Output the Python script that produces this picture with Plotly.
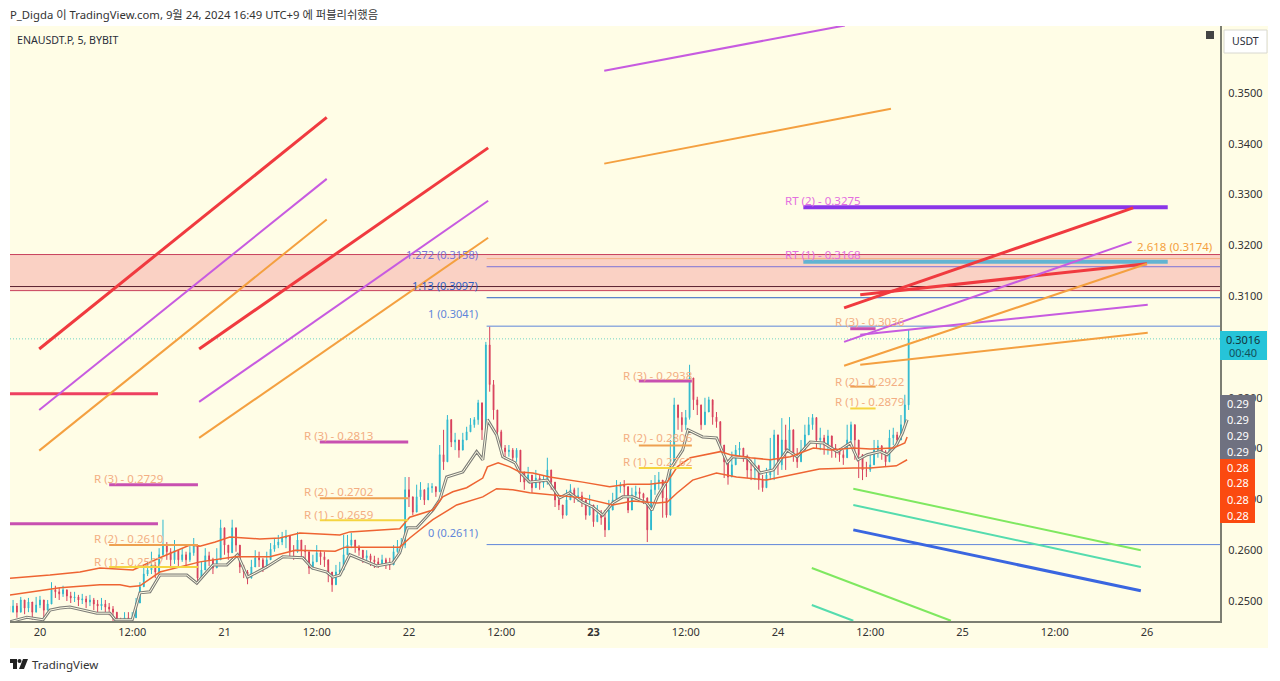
import pandas as pd
import plotly.graph_objects as go

# ---------- data: candles (30-min samples, prices x 1e-4) ----------
START = "2024-09-19 20:00"
close_e4 = [
 2478,2490,2478,2502,2486,2498,2478,2492,2502,2482,2494,2522,2518,2514,2522,2510,2506,2508,2502,2504,2498,2502,2494,2490,2494,2488,
 2484,2478,2459,2453,2467,2463,2467,2496,2528,2553,2561,2571,2557,2591,2610,2597,2581,2600,2581,2591,2581,2595,2610,2545,2561,2589,
 2581,2565,2581,2644,2610,2595,2644,2610,2567,2557,2545,2567,2585,2581,2565,2581,2602,2610,2616,2624,2628,2597,2597,2620,2600,2597,
 2565,2577,2595,2587,2581,2557,2532,2557,2561,2591,2610,2620,2606,2600,2585,2589,2581,2577,2573,2581,2573,2571,2597,2604,2610,2719,
 2705,2675,2705,2719,2699,2723,2725,2715,2788,2774,2857,2813,2817,2797,2817,2833,2847,2857,2890,2837,3004,2926,2876,2833,2801,2794,
 2797,2782,2797,2754,2734,2748,2723,2742,2732,2734,2758,2734,2699,2689,2669,2699,2719,2705,2707,2699,2669,2689,2656,2669,2664,2640,
 2679,2699,2725,2729,2725,2679,2709,2715,2711,2703,2640,2719,2732,2738,2703,2669,2768,2886,2861,2847,2861,2939,2896,2886,2847,2872,
 2896,2862,2853,2807,2774,2744,2768,2797,2801,2784,2758,2758,2766,2738,2723,2748,2778,2827,2768,2817,2797,2837,2788,2774,2797,2827,
 2847,2861,2817,2821,2807,2825,2801,2797,2788,2782,2817,2847,2817,2788,2758,2758,2768,2797,2805,2794,2774,2821,2827,2817,2847,2886,3016]
high_e4 = [
 2490,2502,2496,2508,2502,2506,2496,2508,2510,2498,2502,2537,2530,2526,2530,2522,2518,2518,2512,2514,2510,2512,2506,2502,2506,2502,
 2496,2490,2478,2467,2478,2478,2478,2506,2537,2569,2577,2597,2577,2604,2660,2616,2604,2620,2600,2604,2597,2608,2624,2581,2577,2604,
 2597,2585,2604,2660,2630,2610,2660,2630,2591,2571,2561,2581,2600,2597,2585,2597,2614,2624,2630,2636,2640,2620,2610,2636,2620,2610,
 2581,2591,2610,2600,2597,2571,2551,2571,2577,2630,2630,2634,2620,2610,2597,2600,2593,2589,2585,2591,2585,2585,2610,2620,2624,2744,
 2744,2699,2729,2734,2719,2732,2732,2725,2807,2837,2866,2831,2831,2817,2831,2843,2860,2862,2896,2866,3010,3040,2935,2876,2837,2807,
 2807,2801,2801,2778,2748,2764,2742,2758,2748,2748,2782,2758,2719,2709,2689,2719,2730,2723,2723,2715,2689,2709,2675,2689,2679,2679,
 2699,2713,2738,2734,2738,2719,2723,2727,2723,2713,2689,2738,2748,2754,2729,2742,2817,2900,2886,2872,2876,2965,2912,2902,2876,2900,
 2902,2886,2872,2847,2807,2778,2794,2807,2813,2801,2788,2778,2782,2768,2748,2762,2821,2837,2807,2860,2847,2862,2817,2801,2817,2847,
 2862,2868,2847,2841,2827,2837,2817,2809,2801,2797,2847,2853,2837,2817,2774,2774,2788,2817,2817,2807,2797,2837,2841,2833,2866,2906,3034]
low_e4 = [
 2468,2478,2467,2486,2474,2478,2463,2478,2486,2467,2482,2496,2506,2502,2508,2500,2496,2498,2490,2494,2486,2490,2482,2478,2482,2478,
 2472,2459,2443,2439,2455,2447,2455,2482,2512,2537,2549,2553,2545,2569,2589,2581,2567,2573,2565,2577,2569,2577,2589,2533,2545,2573,
 2569,2553,2565,2610,2591,2581,2616,2597,2555,2545,2533,2555,2569,2567,2557,2569,2589,2597,2604,2610,2604,2585,2581,2595,2585,2581,
 2553,2561,2581,2571,2567,2537,2518,2545,2551,2581,2597,2604,2595,2589,2575,2577,2569,2565,2565,2569,2563,2561,2585,2595,2597,2604,
 2685,2669,2689,2699,2689,2709,2713,2705,2715,2758,2797,2803,2797,2782,2807,2817,2833,2841,2847,2817,2817,2912,2857,2827,2788,2778,
 2784,2772,2774,2734,2719,2734,2713,2728,2719,2723,2729,2719,2685,2679,2662,2687,2705,2693,2695,2685,2660,2675,2646,2656,2650,2626,
 2656,2685,2705,2713,2705,2673,2695,2699,2699,2691,2616,2660,2709,2719,2664,2664,2709,2817,2837,2833,2837,2857,2876,2866,2837,2847,
 2876,2847,2841,2794,2742,2729,2754,2774,2782,2774,2742,2738,2738,2719,2715,2734,2738,2738,2748,2758,2758,2797,2774,2762,2774,2797,
 2827,2837,2801,2797,2788,2788,2782,2782,2774,2768,2797,2807,2778,2742,2738,2744,2754,2778,2782,2778,2764,2797,2807,2807,2833,2847,2876]
FIRST_OPEN_E4 = 2490

# ---------- data: indicator lines (hours from 20 Sep 00:00, prices x 1e-4) ----------
upper_h = [-3.9,1.3,5.2,7.8,12.1,15.6,19.5,20.8,22.8,24.7,28.6,31.2,33.8,39.0,40.3,46.8,48.1,51.1,52.4,53.7,55.5,57.6,58.2,59.6,61.1,62.4,64.1,66.3,70.6,74.1,76.4,79.3,81.6,82.9,84.6,88.5,89.8,92.4,95.0,97.6,100.6,102.8,105.8,108.0,111.0,112.5,112.8]
upper_p = [2545,2551,2557,2565,2561,2585,2610,2608,2616,2626,2622,2624,2634,2630,2636,2642,2665,2679,2705,2715,2723,2742,2764,2772,2764,2754,2752,2744,2734,2725,2730,2730,2734,2764,2782,2794,2788,2782,2778,2784,2801,2797,2801,2799,2801,2811,2823]
lower_h = [-3.9,2.6,7.8,10.4,11.7,13.0,15.6,20.8,25.4,29.9,33.2,38.4,39.7,46.8,48.1,51.1,54.2,57.6,59.4,61.5,63.7,66.3,70.6,74.5,77.1,80.3,81.6,82.9,84.9,88.0,90.6,94.5,97.6,101.4,105.8,108.0,111.4,112.8]
lower_p = [2512,2526,2532,2532,2528,2530,2557,2577,2587,2587,2600,2598,2606,2606,2624,2660,2689,2705,2721,2719,2713,2709,2703,2689,2697,2693,2695,2713,2738,2752,2744,2738,2748,2760,2762,2762,2766,2778]
gray_h = [-3.9,-1.7,0.4,1.3,2.6,3.9,7.4,9.1,9.8,12.0,13.0,14.3,15.6,19.1,20.4,22.5,24.3,25.7,27.0,29.5,31.6,34.2,35.4,37.3,38.1,39.0,40.3,42.0,43.8,45.9,46.8,47.8,49.0,51.1,52.0,52.9,55.0,56.8,57.6,58.2,59.4,60.2,61.8,62.4,63.7,66.0,67.6,68.9,70.5,71.9,73.2,74.5,75.8,77.1,78.9,79.6,80.3,81.6,81.9,83.6,84.3,86.2,88.0,89.4,90.1,92.0,93.7,95.4,97.2,98.5,100.2,101.9,103.7,105.4,106.4,107.6,109.3,110.2,111.4,112.2,112.8]
gray_p = [2459,2468,2463,2482,2486,2488,2476,2476,2463,2463,2516,2518,2551,2551,2535,2571,2571,2591,2547,2567,2587,2585,2565,2557,2547,2551,2591,2581,2569,2575,2595,2644,2644,2679,2699,2744,2754,2794,2778,2857,2827,2784,2772,2754,2734,2738,2703,2713,2695,2685,2669,2693,2705,2705,2693,2679,2705,2738,2758,2797,2837,2823,2821,2772,2784,2782,2752,2758,2797,2784,2813,2811,2794,2811,2778,2788,2794,2788,2807,2831,2857]

# ---------- data: drawn trend lines (h0, p0, h1, p1, colour, width) ----------
RED, PURPLE, ORANGE = "#f03a3f", "#c75be0", "#f4a040"
trend_lines = [
 (-0.1,2996,37.3,3452,RED,3),(20.7,2996,58.3,3392,RED,3),
 (-0.1,2876,37.3,3331,PURPLE,2),(20.7,2892,58.3,3288,PURPLE,2),
 (-0.1,2796,37.3,3251,ORANGE,2),(20.7,2821,58.3,3215,ORANGE,2),
 (73.4,3544,104.7,3633,PURPLE,2),(73.4,3361,110.7,3469,ORANGE,2),
 (104.6,3077,142.2,3274,RED,3),(106.7,3103,144.0,3164,RED,3),
 (104.6,3010,142.0,3207,PURPLE,2),(106.7,3024,144.1,3083,PURPLE,2),
 (104.6,2963,144.0,3164,ORANGE,2),(106.7,2965,144.1,3028,ORANGE,2),
 (105.8,2721,143.2,2600,"#7fe860",2),(105.8,2689,143.2,2567,"#55dcae",2),
 (105.8,2640,143.2,2520,"#3a66e0",3),(100.4,2565,118.5,2461,"#7fe860",2),
 (100.4,2492,105.8,2461,"#55dcae",2),
]
left_levels = [(-3.9,15.35,2908,"#ee4060"),(-3.9,15.35,2652,"#c850b0")]
# R levels: (h0, h1, text hour, text price, level, label, colour)
R3, R2, R1 = "#c850b0", "#eea050", "#f5d540"
r_levels = [
 (9.0,20.55,7.0,2742,2729,"R (3) - 0.2729",R3),(9.0,20.55,7.0,2624,2610,"R (2) - 0.2610",R2),(9.0,20.55,7.0,2577,2567,"R (1) - 0.2567",R1),
 (36.4,47.9,34.3,2825,2813,"R (3) - 0.2813",R3),(36.4,47.9,34.3,2715,2702,"R (2) - 0.2702",R2),(36.4,47.9,34.3,2671,2659,"R (1) - 0.2659",R1),
 (77.9,84.8,75.8,2943,2933,"R (3) - 0.2938",R3),(77.9,84.8,75.8,2821,2806,"R (2) - 0.2806",R2),(77.9,84.8,75.8,2774,2762,"R (1) - 0.2762",R1),
 (105.4,108.7,103.4,3050,3036,"R (3) - 0.3036",R3),(105.4,108.7,103.4,2933,2922,"R (2) - 0.2922",R2),(105.4,108.7,103.4,2892,2879,"R (1) - 0.2879",R1),
]
rt_levels = [(99.3,146.7,96.9,3288,3275,"RT (2) - 0.3275","#8a35e8"),(99.3,146.7,96.9,3182,3168,"RT (1) - 0.3168","#62b4d2")]
# fib levels: (level, label, text price, colour)
fib_levels = [
 (3041,"1 (0.3041)",3065,"#5f86da"),(2611,"0 (0.2611)",2634,"#5f86da"),
 (3097,"1.13 (0.3097)",3121,"#2f62c4"),(3158,"1.272 (0.3158)",3182,"#7a72d8"),
]
FIB_START, AXIS_END = 58.1, 153.5
ORANGE_LEVEL = 3174
ZONE_TOP, ZONE_BOTTOM, ZONE_DARK = 3182, 3111, 3119
LAST_PRICE = 3016

y_ticks = [0.25,0.26,0.27,0.28,0.29,0.30,0.31,0.32,0.33,0.34,0.35]
x_tick_hours = [0,12,24,36,48,60,72,84,96,108,120,132,144]
x_tick_text = ["20","12:00","21","12:00","22","12:00","<b>23</b>","12:00","24","12:00","25","12:00","26"]
gray_labels = ["0.29","0.29","0.29","0.29"]
orange_labels = ["0.28","0.28","0.28","0.28"]

# ---------- helpers ----------
T0 = pd.Timestamp("2024-09-20 00:00")
def hx(h):
    return T0 + pd.Timedelta(hours=h)
def hxs(hs):
    return [hx(h) for h in hs]
def pr(e4):
    return e4 / 10000
def prs(vals):
    return [v / 10000 for v in vals]

# plot rectangle in page pixels (chrome only)
L, R, T, B = 10, 1220, 26, 621
def px(x): return (x - L) / (R - L)
def py(y): return (B - y) / (B - T)

FONT = "Noto Sans, Noto Sans CJK KR, sans-serif"
fig = go.Figure()

candle_x = pd.date_range(START, periods=len(close_e4), freq="30min")
open_e4 = [FIRST_OPEN_E4] + close_e4[:-1]
fig.add_trace(go.Candlestick(
    x=candle_x, open=prs(open_e4), high=prs(high_e4), low=prs(low_e4), close=prs(close_e4),
    increasing=dict(line=dict(color="#2fb9cf", width=1), fillcolor="#2fb9cf"),
    decreasing=dict(line=dict(color="#d8405c", width=1), fillcolor="#d8405c"),
    whiskerwidth=0, hoverinfo="skip"))

def line(xs, ys, color, width, dash=None):
    fig.add_trace(go.Scatter(x=xs, y=ys, mode="lines",
                             line=dict(color=color, width=width, dash=dash), hoverinfo="skip"))

line(hxs(gray_h), prs(gray_p), "#7d7d78", 3.0)
line(hxs(gray_h), prs(gray_p), "#fffde6", 1.0)
line(hxs(upper_h), prs(upper_p), "#ee6432", 1.5)
line(hxs(lower_h), prs(lower_p), "#ee6432", 1.5)

# horizontal levels
line([hx(FIB_START), hx(AXIS_END)], [pr(ORANGE_LEVEL)] * 2, "#f4b080", 1)
for lvl, label, tp, col in fib_levels:
    line([hx(FIB_START), hx(AXIS_END)], [pr(lvl)] * 2, col, 1)
line([hx(-3.9), hx(AXIS_END)], [pr(ZONE_TOP)] * 2, "#c8405c", 1)
line([hx(-3.9), hx(AXIS_END)], [pr(ZONE_BOTTOM)] * 2, "#c8405c", 1)
line([hx(-3.9), hx(AXIS_END)], [pr(ZONE_DARK)] * 2, "#5a2030", 1)
line([hx(-3.9), hx(AXIS_END)], [pr(LAST_PRICE)] * 2, "#6fd4c4", 1, "1px 2px")

for h0, h1, lvl, col in left_levels:
    line([hx(h0), hx(h1)], [pr(lvl)] * 2, col, 3)
for h0, h1, tx, tp, lvl, label, col in r_levels:
    line([hx(h0), hx(h1)], [pr(lvl)] * 2, col, 3 if col == R3 else 2)
for h0, h1, tx, tp, lvl, label, col in rt_levels:
    line([hx(h0), hx(h1)], [pr(lvl)] * 2, col, 4)
for h0, p0, h1, p1, col, w in trend_lines:
    line([hx(h0), hx(h1)], [pr(p0), pr(p1)], col, w)

annotations = []
def text(x, y, s, color, size=11.5, xanchor="left", xref="x", yref="y", **kw):
    shift = {"left": -2, "right": 2, "center": 0}[xanchor]
    annotations.append(dict(x=x, y=y, xref=xref, yref=yref, text=s, showarrow=False, xanchor=xanchor, xshift=shift,
                            yanchor="middle", font=dict(family=FONT, size=size, color=color), **kw))

for h0, h1, tx, tp, lvl, label, col in r_levels:
    text(hx(tx), pr(tp), label, "#f3ad82")
for h0, h1, tx, tp, lvl, label, col in rt_levels:
    text(hx(tx), pr(tp), label, "#e46fe0")
for lvl, label, tp, col in fib_levels:
    text(hx(57.0), pr(tp), label, col, xanchor="right", size=11)
text(hx(152.5), pr(3197), "2.618 (0.3174)", "#f4a040", xanchor="right")

# page chrome
text(px(10), py(14), "P_Digda 이 TradingView.com, 9월 24, 2024 16:49 UTC+9 에 퍼블리쉬했음", "#333333", size=11.3, xref="paper", yref="paper")
text(px(17), py(40), "ENAUSDT.P, 5, BYBIT", "#2a2e39", size=10.6, xref="paper", yref="paper")
text(px(1245.5), py(41), "USDT", "#2a2e39", size=10.5, xanchor="center", xref="paper", yref="paper")
text(px(32), py(664), "TradingView", "#333333", size=11.5, xref="paper", yref="paper")
text(px(1243), py(339), "0.3016", "#12343c", size=11, xanchor="center", xref="paper", yref="paper")
text(px(1243), py(352), "00:40", "#12505c", size=11, xanchor="center", xref="paper", yref="paper")
for i, s in enumerate(gray_labels):
    text(px(1238), py(403 + 16 * i), s, "#ffffff", size=11, xanchor="center", xref="paper", yref="paper")
for i, s in enumerate(orange_labels):
    text(px(1238), py(467 + 16 * i), s, "#ffffff", size=11, xanchor="center", xref="paper", yref="paper")

def rect(x0, y0, x1, y1, fill, layer="above", line_col=None):
    return dict(type="rect", xref="paper", yref="paper", x0=px(x0), x1=px(x1), y0=py(y1), y1=py(y0),
                fillcolor=fill, layer=layer, line=dict(color=line_col or fill, width=1 if line_col else 0))

def logo_path():
    pts = [(10,659),(17,659),(17,669),(13,669),(13,663),(10,663)]
    a = "M" + " L".join(f"{px(x)},{py(y)}" for x, y in pts) + " Z"
    pts = [(23,659),(28,659),(24,669),(19,669)]
    b = "M" + " L".join(f"{px(x)},{py(y)}" for x, y in pts) + " Z"
    return a + " " + b

shapes = [
    rect(10, 26, 1268, 648, "#fffde6", layer="below"),
    dict(type="rect", xref="paper", yref="y", x0=0, x1=1, y0=pr(ZONE_BOTTOM), y1=pr(ZONE_TOP),
         fillcolor="rgba(240,110,120,0.30)", line=dict(width=0), layer="below"),
    rect(1220, 331, 1267, 360, "#26c4d8"),
    rect(1220, 395, 1255, 459, "#6f7180"),
    rect(1220, 459, 1255, 523, "#fb4a10"),
    rect(1224, 30, 1267, 53, "#ffffff", line_col="#d8d8d0"),
    rect(1206, 31, 1214, 39, "#444444"),
    dict(type="path", xref="paper", yref="paper", path=logo_path(), fillcolor="#222222",
         line=dict(width=0), layer="above"),
    dict(type="circle", xref="paper", yref="paper", x0=px(17.5), x1=px(21.5), y0=py(663), y1=py(659),
         fillcolor="#222222", line=dict(width=0), layer="above"),
]

fig.update_layout(
    width=1280, height=681, autosize=False,
    margin=dict(l=L, r=1280 - R, t=T, b=681 - B),
    paper_bgcolor="#ffffff", plot_bgcolor="rgba(0,0,0,0)",
    showlegend=False, hovermode=False, boxgap=0.7,
    annotations=annotations, shapes=shapes,
    font=dict(family=FONT, size=11, color="#4a4a4a"),
    xaxis=dict(type="date", range=[hx(-3.9), hx(AXIS_END)], rangeslider=dict(visible=False),
               tickmode="array", tickvals=hxs(x_tick_hours), ticktext=x_tick_text,
               showgrid=False, zeroline=False, showline=True, linecolor="#7c7e72", linewidth=2,
               ticks="", tickangle=0, tickfont=dict(size=11, color="#333333"), fixedrange=True),
    yaxis=dict(side="right", range=[0.24606, 0.36319], tickmode="array", tickvals=y_ticks,
               ticktext=[f"{v:.4f}" for v in y_ticks], showgrid=False, zeroline=False, showline=True,
               linecolor="#7c7e72", linewidth=2, ticks="", tickfont=dict(size=11, color="#333333"),
               ticklabelposition="outside", ticklabelstandoff=4, fixedrange=True),
)
fig.write_html("out.html", config={"displayModeBar": False},
               post_script="document.body.style.margin='0';document.body.style.overflow='hidden';")
